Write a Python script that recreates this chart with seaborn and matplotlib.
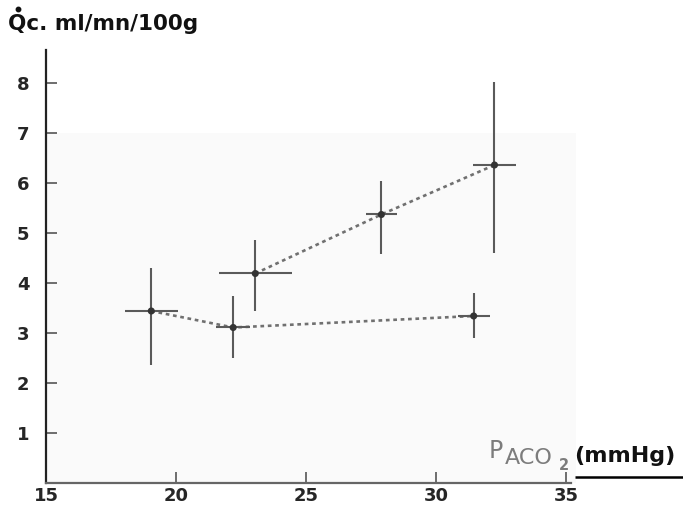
import matplotlib
matplotlib.use("Agg")
import matplotlib.pyplot as plt
import pandas as pd
import seaborn as sns
from matplotlib.lines import Line2D

# values
series = ["low", "low", "low", "high", "high", "high"]
paco2 = [19.05, 22.2, 31.45, 23.05, 27.9, 32.25]
paco2_err = [1.02, 0.65, 0.61, 1.40, 0.60, 0.83]
qc = [3.44, 3.11, 3.34, 4.19, 5.37, 6.36]
qc_top = [4.30, 3.73, 3.79, 4.86, 6.04, 8.02]
qc_bottom = [2.36, 2.51, 2.89, 3.44, 4.57, 4.59]

x_ticks = [15, 20, 25, 30, 35]
y_ticks = [1, 2, 3, 4, 5, 6, 7, 8]

df = pd.DataFrame({"series": series, "paco2": paco2, "qc": qc})

sns.set_theme(style="ticks")
plt.rcParams["font.family"] = ["DejaVu Sans"]

fig = plt.figure(figsize=(6.83, 5.08), dpi=100)
ax = fig.add_axes([0.0673, 0.0492, 0.9327, 0.8524])
ax.set_xlim(15, 39.5)
ax.set_ylim(0, 8.66)

# faint grey patch of the scanned page
ax.axhspan(0, 7, xmin=0, xmax=(35.4 - 15) / (39.5 - 15), color="#fafafa", zorder=0, lw=0)

# dotted connecting lines
sns.lineplot(data=df, x="paco2", y="qc", units="series", estimator=None,
             color="#707070", lw=1.9, dashes=False, ax=ax, zorder=2)
for line in ax.lines:
    line.set_dashes((1.4, 1.4))

# crosses (error bars both ways)
yerr = [[c - b for c, b in zip(qc, qc_bottom)], [t - c for c, t in zip(qc, qc_top)]]
ax.errorbar(paco2, qc, xerr=paco2_err, yerr=yerr, fmt="none",
            ecolor="#5a5a5a", elinewidth=1.5, capsize=0, zorder=3)
sns.scatterplot(data=df, x="paco2", y="qc", color="#333333", s=26,
                edgecolor="none", ax=ax, zorder=4, legend=False)

ax.set_xticks(x_ticks)
ax.set_yticks(y_ticks)
ax.set_xticklabels([str(v) for v in x_ticks], fontsize=13, fontweight="bold")
ax.set_yticklabels([str(v) for v in y_ticks], fontsize=13, fontweight="bold")
ax.tick_params(axis="both", direction="in", length=8, width=1.2, color="#555555")
ax.tick_params(axis="y", pad=12)
ax.tick_params(axis="x", pad=3)
ax.set_xlabel("")
ax.set_ylabel("")

for side in ["top", "right"]:
    ax.spines[side].set_visible(False)
ax.spines["left"].set_color("#222222")
ax.spines["left"].set_linewidth(1.6)
ax.spines["bottom"].set_color("#666666")
ax.spines["bottom"].set_linewidth(1.6)
ax.spines["bottom"].set_bounds(15, 35.2)
ax.hlines(0.12, 35.35, 39.5, color="black", lw=1.8, clip_on=False)

# y axis title, with the dot over the Q drawn separately
fig.text(0.012, 0.941, "Qc. ml/mn/100g", fontsize=15.5,
         fontweight="bold", color="#111111", va="baseline", ha="left")
fig.add_artist(Line2D([17.5 / 683], [1 - 9 / 508], marker="o", markersize=3.2,
                      color="#111111", transform=fig.transFigure))

# x axis label: P with ACO2 subscript, then (mmHg)
fig.text(489 / 683, 1 - 458 / 508, "P", fontsize=17, color="#7c7c7c",
         va="baseline", ha="left")
fig.text(505 / 683, 1 - 464 / 508, "ACO", fontsize=16, color="#7c7c7c",
         va="baseline", ha="left")
fig.text(559 / 683, 1 - 470 / 508, "2", fontsize=10.5, color="#7c7c7c",
         fontweight="bold", va="baseline", ha="left")
fig.text(574 / 683, 1 - 462 / 508, "(mmHg)", fontsize=16, fontweight="bold",
         color="#111111", va="baseline", ha="left")

fig.savefig("out.png", dpi=100)
